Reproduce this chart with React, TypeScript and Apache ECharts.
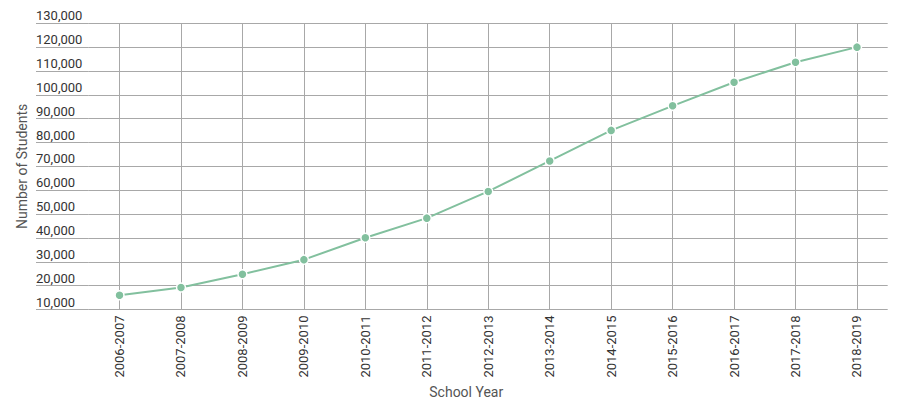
import React, { useEffect, useRef } from "react";
import * as echarts from "echarts";

const schoolYears = [
  "2006-2007", "2007-2008", "2008-2009", "2009-2010", "2010-2011", "2011-2012",
  "2012-2013", "2013-2014", "2014-2015", "2015-2016", "2016-2017", "2017-2018", "2018-2019",
];
const students = [
  16000, 19200, 24800, 30900, 40100, 48300, 59500, 72300, 85100, 95400, 105300, 113700, 120000,
];
const yMin = 10000;
const yMax = 130000;
const yStep = 10000;

const FONT = "Roboto, 'Noto Sans', sans-serif";
const GRID_COLOR = "#a8a8a8";

export default function App() {
  const ref = useRef<HTMLDivElement>(null);
  useEffect(() => {
    if (!ref.current) return;
    const chart = echarts.init(ref.current, undefined, { renderer: "svg" });
    const fmt = (v: number) => v.toLocaleString("en-US");
    chart.setOption({
      animation: false,
      textStyle: { fontFamily: FONT },
      grid: [
        { left: 88.8, right: 12.3, top: 23.3, bottom: 96.5, containLabel: false },
        { left: 36, width: 52.8, top: 23.3, bottom: 96.5, containLabel: false },
      ],
      xAxis: [
        {
          type: "category",
          gridIndex: 0,
          data: schoolYears,
          boundaryGap: true,
          axisLine: { show: false },
          axisTick: { show: false },
          splitLine: { show: true, interval: 0, alignWithLabel: true, lineStyle: { color: GRID_COLOR, width: 1 } },
          axisLabel: {
            interval: 0,
            rotate: 90,
            margin: 6,
            color: "#333",
            fontSize: 13,
            fontFamily: FONT,
          },
          name: "School Year",
          nameLocation: "middle",
          nameGap: 72,
          nameTextStyle: { color: "#555", fontSize: 14, fontFamily: FONT, padding: [0, 44, 0, 0] },
        },
        {
          type: "value",
          gridIndex: 1,
          show: false,
          min: 0,
          max: 1,
        },
      ],
      yAxis: [
        {
          type: "value",
          gridIndex: 0,
          min: yMin,
          max: yMax,
          interval: yStep,
          axisLine: { show: false },
          axisTick: { show: false },
          axisLabel: { show: false },
          splitLine: { show: true, lineStyle: { color: GRID_COLOR, width: 1 } },
        },
        {
          type: "value",
          gridIndex: 1,
          min: yMin,
          max: yMax,
          interval: yStep,
          axisLine: { show: false },
          axisTick: { show: false },
          splitLine: { show: true, lineStyle: { color: GRID_COLOR, width: 1 } },
          axisLabel: {
            inside: true,
            margin: 0,
            align: "left",
            verticalAlign: "bottom",
            lineHeight: 15,
            color: "#333",
            fontSize: 13,
            fontFamily: FONT,
            formatter: fmt,
          },
          name: "Number of Students",
          nameLocation: "middle",
          nameGap: 7,
          nameTextStyle: { color: "#555", fontSize: 14, fontFamily: FONT },
        },
      ],
      series: [
        {
          type: "line",
          xAxisIndex: 0,
          yAxisIndex: 0,
          data: students,
          symbol: "circle",
          symbolSize: 9,
          lineStyle: { color: "#82c09e", width: 2 },
          itemStyle: { color: "#82c09e", borderColor: "#fff", borderWidth: 1.5 },
        },
      ],
    });
    return () => chart.dispose();
  }, []);
  return <div ref={ref} style={{ width: 900, height: 406, margin: -8 }} />;
}
